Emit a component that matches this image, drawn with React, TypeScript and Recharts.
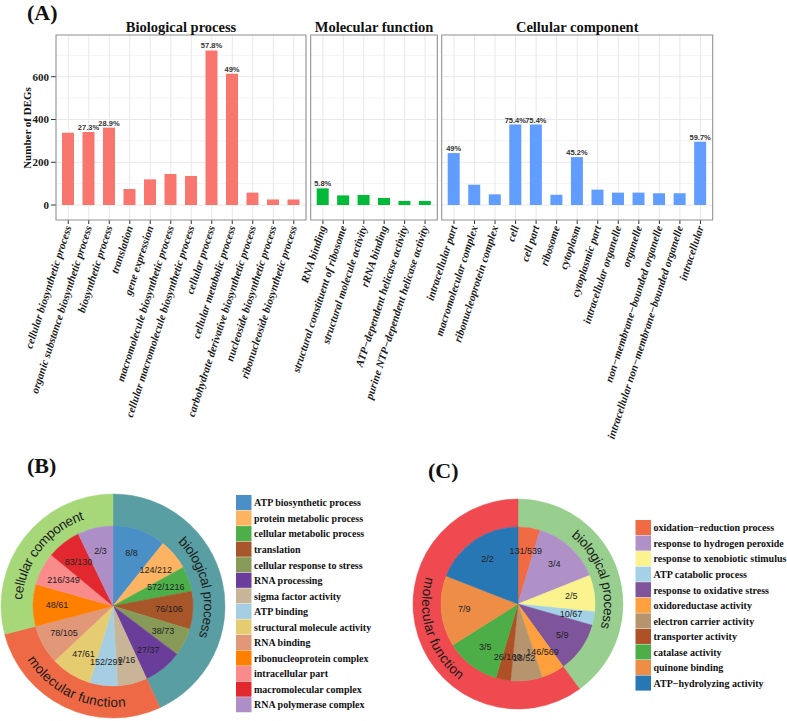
import React from 'react'
import { BarChart, Bar, XAxis, YAxis, CartesianGrid, LabelList, PieChart, Pie, Cell } from 'recharts'

const SERIF = '"Liberation Serif", "Times New Roman", serif'
const SANS = '"Liberation Sans", Arial, Helvetica, sans-serif'

// (A) number of DEGs per GO term, one facet per ontology
const bpTerms = [
  'cellular biosynthetic process',
  'organic substance biosynthetic process',
  'biosynthetic process',
  'translation',
  'gene expression',
  'macromolecule biosynthetic process',
  'cellular macromolecule biosynthetic process',
  'cellular process',
  'cellular metabolic process',
  'carbohydrate derivative biosynthetic process',
  'nucleoside biosynthetic process',
  'ribonucleoside biosynthetic process',
]
const bpCounts = [338, 341, 362, 75, 120, 145, 136, 723, 614, 58, 26, 26]
const bpPct = ['', '27.3%', '28.9%', '', '', '', '', '57.8%', '49%', '', '', '']

const mfTerms = [
  'RNA binding',
  'structural constituent of ribosome',
  'structural molecule activity',
  'rRNA binding',
  'ATP−dependent helicase activity',
  'purine NTP−dependent helicase activity',
]
const mfCounts = [78, 45, 47, 33, 19, 19]
const mfPct = ['5.8%', '', '', '', '', '']

const ccTerms = [
  'intracellular part',
  'macromolecular complex',
  'ribonucleoprotein complex',
  'cell',
  'cell part',
  'ribosome',
  'cytoplasm',
  'cytoplasmic part',
  'intracellular organelle',
  'organelle',
  'non−membrane−bounded organelle',
  'intracellular non−membrane−bounded organelle',
  'intracellular',
]
const ccCounts = [243, 95, 50, 376, 376, 48, 224, 72, 58, 58, 55, 55, 296]
const ccPct = ['49%', '', '', '75.4%', '75.4%', '', '45.2%', '', '', '', '', '', '59.7%']

const yTicks = [0, 200, 400, 600]
const yMinor = [100, 300, 500, 700]

// (B)
const bTerms = [
  'ATP biosynthetic process',
  'protein metabolic process',
  'cellular metabolic process',
  'translation',
  'cellular response to stress',
  'RNA processing',
  'sigma factor activity',
  'ATP binding',
  'structural molecule activity',
  'RNA binding',
  'ribonucleoprotein complex',
  'intracellular part',
  'macromolecular complex',
  'RNA polymerase complex',
]
const bHits = [8, 124, 572, 76, 38, 27, 9, 152, 47, 78, 48, 216, 83, 2]
const bTotals = [8, 212, 1216, 106, 73, 37, 16, 291, 61, 105, 61, 349, 130, 3]
const bGroupOf = [0, 0, 0, 0, 0, 0, 1, 1, 1, 1, 2, 2, 2, 2]
const bGroups = ['biological process', 'molecular function', 'cellular component']
const bColors = [
  '#4b8fc7', '#fdb462', '#4daf4a', '#a65628', '#889a58', '#6a3d9a', '#c8b597',
  '#a6cee3', '#e6cc71', '#e09878', '#ff7f00', '#f98b8b', '#e2282f', '#ad8ec6',
]
const bGroupColors = ['#599ea2', '#ee6a46', '#a6d87a']

// (C)
const cTerms = [
  'oxidation−reduction process',
  'response to hydrogen peroxide',
  'response to xenobiotic stimulus',
  'ATP catabolic process',
  'response to oxidative stress',
  'oxidoreductase activity',
  'electron carrier activity',
  'transporter activity',
  'catalase activity',
  'quinone binding',
  'ATP−hydrolyzing activity',
]
const cHits = [131, 3, 2, 10, 5, 146, 18, 26, 3, 7, 2]
const cTotals = [539, 4, 5, 67, 9, 569, 52, 160, 5, 9, 2]
const cGroupOf = [0, 0, 0, 0, 0, 1, 1, 1, 1, 1, 1]
const cGroups = ['biological process', 'molecular function']
const cColors = [
  '#f06a44', '#af91c8', '#fbf48e', '#a4d1e6', '#7e559a', '#fda03d',
  '#b6956e', '#ae5126', '#4dae47', '#ee8d45', '#2777b4',
]
const cGroupColors = ['#98ce8e', '#ee4a50']

const toBars = (terms: string[], counts: number[], pct: string[]) =>
  terms.map((term, i) => ({ term, count: counts[i], pct: pct[i] }))

const toInner = (terms: string[], hits: number[], totals: number[], colors: string[]) =>
  terms.map((name, i) => ({ name, value: hits[i] / totals[i], frac: `${hits[i]}/${totals[i]}`, color: colors[i] }))

const toOuter = (groups: string[], groupOf: number[], inner: { value: number }[], colors: string[]) =>
  groups.map((name, g) => ({
    name,
    value: inner.reduce((s, d, i) => (groupOf[i] === g ? s + d.value : s), 0),
    color: colors[g],
  }))

const bInner = toInner(bTerms, bHits, bTotals, bColors)
const bOuter = toOuter(bGroups, bGroupOf, bInner, bGroupColors)
const cInner = toInner(cTerms, cHits, cTotals, cColors)
const cOuter = toOuter(cGroups, cGroupOf, cInner, cGroupColors)

// eslint-disable-next-line @typescript-eslint/no-explicit-any
const RotTick = ({ x, y, payload }: any) => (
  <g transform={`translate(${x},${y})`}>
    <text
      x={0}
      y={0}
      dy="0.32em"
      textAnchor="end"
      transform="rotate(-72)"
      fontFamily={SERIF}
      fontStyle="italic"
      fontWeight="bold"
      fontSize={11}
      fill="#1a1a1a"
    >
      {payload.value}
    </text>
  </g>
)

// eslint-disable-next-line @typescript-eslint/no-explicit-any
const PctLabel = ({ x, y, width, value }: any) => {
  if (!value) return null
  return (
    <text x={x + width / 2} y={y - 2} textAnchor="middle" fontFamily={SANS} fontWeight="bold" fontSize={7.5} fill="#333">
      {value}
    </text>
  )
}

interface FacetProps {
  data: { term: string; count: number; pct: string }[]
  color: string
  left: number
  right: number
  showY?: boolean
}

function Facet({ data, color, left, right, showY }: FacetProps) {
  return (
    <div style={{ position: 'absolute', left: 0, top: 0 }}>
      <BarChart
        width={787}
        height={460}
        data={data}
        margin={{ top: 35, right: 787 - right, bottom: 0, left: showY ? 0 : left }}
      >
        <CartesianGrid horizontalValues={yMinor} vertical={false} stroke="#f3f3f3" />
        <CartesianGrid horizontalValues={yTicks} stroke="#e8e8e8" />
        <XAxis
          dataKey="term"
          interval={0}
          padding={{ left: 2, right: 2 }}
          height={240}
          axisLine={false}
          tickSize={4}
          tickLine={{ stroke: '#333' }}
          tick={<RotTick />}
        />
        <YAxis
          hide={!showY}
          width={left}
          domain={[-70, 795]}
          ticks={yTicks}
          axisLine={false}
          tickSize={5}
          tickLine={{ stroke: '#333' }}
          tick={{ fontFamily: SERIF, fontWeight: 'bold', fontSize: 11, fill: '#1a1a1a' }}
        />
        <Bar dataKey="count" fill={color} barSize={12} isAnimationActive={false}>
          <LabelList dataKey="pct" content={PctLabel} />
        </Bar>
      </BarChart>
    </div>
  )
}

const ringLabel = (prefix: string, size: number) =>
  // eslint-disable-next-line @typescript-eslint/no-explicit-any
  (p: any) => {
    const { cx, cy, innerRadius, outerRadius, startAngle, endAngle, midAngle, name, index } = p
    const r = (innerRadius + outerRadius) / 2
    const hi = Math.max(startAngle, endAngle)
    const lo = Math.min(startAngle, endAngle)
    const pt = (a: number) => `${cx + r * Math.cos((a * Math.PI) / 180)} ${cy - r * Math.sin((a * Math.PI) / 180)}`
    const fromTop = (((90 - midAngle) % 360) + 360) % 360
    const bottom = fromTop > 90 && fromTop < 270
    const large = hi - lo > 180 ? 1 : 0
    const d = bottom
      ? `M ${pt(lo)} A ${r} ${r} 0 ${large} 0 ${pt(hi)}`
      : `M ${pt(hi)} A ${r} ${r} 0 ${large} 1 ${pt(lo)}`
    const id = `${prefix}-${index}`
    return (
      <g key={id}>
        <path id={id} d={d} fill="none" stroke="none" />
        <text fontFamily={SANS} fontSize={size} fill="#1a1a1a" dominantBaseline="central">
          <textPath href={`#${id}`} startOffset="50%" textAnchor="middle" dominantBaseline="central">
            {name}
          </textPath>
        </text>
      </g>
    )
  }

// eslint-disable-next-line @typescript-eslint/no-explicit-any
const sliceLabel = (p: any) => {
  const { cx, cy, midAngle, outerRadius, index } = p
  const frac = p.payload?.frac ?? p.frac
  const r = outerRadius * 0.7
  const a = (midAngle * Math.PI) / 180
  return (
    <text
      key={`s-${index}`}
      x={cx + r * Math.cos(a)}
      y={cy - r * Math.sin(a)}
      textAnchor="middle"
      dominantBaseline="central"
      fontFamily={SANS}
      fontSize={9}
      fill="#222"
    >
      {frac}
    </text>
  )
}

interface SunProps {
  inner: { name: string; value: number; frac: string; color: string }[]
  outer: { name: string; value: number; color: string }[]
  id: string
  left: number
  top: number
  cx: number
  cy: number
  r0: number
  r1: number
}

function Sun({ inner, outer, id, left, top, cx, cy, r0, r1 }: SunProps) {
  return (
    <div style={{ position: 'absolute', left, top }}>
      <PieChart width={cx + r1 + 4} height={cy + r1 + 4} margin={{ top: 0, right: 0, bottom: 0, left: 0 }}>
        <Pie
          data={outer}
          dataKey="value"
          cx={cx}
          cy={cy}
          innerRadius={r0}
          outerRadius={r1}
          startAngle={90}
          endAngle={-270}
          isAnimationActive={false}
          label={ringLabel(id, 13.5)}
          labelLine={false}
        >
          {outer.map((d) => (
            <Cell key={d.name} fill={d.color} stroke={d.color} strokeWidth={0.5} />
          ))}
        </Pie>
        <Pie
          data={inner}
          dataKey="value"
          cx={cx}
          cy={cy}
          outerRadius={r0}
          startAngle={90}
          endAngle={-270}
          isAnimationActive={false}
          label={sliceLabel}
          labelLine={false}
        >
          {inner.map((d) => (
            <Cell key={d.name} fill={d.color} stroke={d.color} strokeWidth={0.5} />
          ))}
        </Pie>
      </PieChart>
    </div>
  )
}

function Legend({ items, x, y }: { items: { name: string; color: string }[]; x: number; y: number }) {
  const row = 15.55
  return (
    <g>
      {items.map((d, i) => (
        <g key={d.name}>
          <rect x={x} y={y + i * row} width={15.5} height={15.1} fill={d.color} />
          <text
            x={x + 18}
            y={y + i * row + 7.8}
            dominantBaseline="central"
            fontFamily={SERIF}
            fontWeight="bold"
            fontSize={10}
            fill="#111"
          >
            {d.name}
          </text>
        </g>
      ))}
    </g>
  )
}

const panels = [
  { title: 'Biological process', x0: 56, x1: 306 },
  { title: 'Molecular function', x0: 310.7, x1: 437.3 },
  { title: 'Cellular component', x0: 441.7, x1: 712.7 },
]

export default function App() {
  return (
    <div style={{ position: 'absolute', left: 0, top: 0, width: 787, height: 721, background: '#fff', overflow: 'hidden' }}>
      <Facet data={toBars(bpTerms, bpCounts, bpPct)} color="#F8766D" left={56} right={306} showY />
      <Facet data={toBars(mfTerms, mfCounts, mfPct)} color="#00BA38" left={310.7} right={437.3} />
      <Facet data={toBars(ccTerms, ccCounts, ccPct)} color="#619CFF" left={441.7} right={712.7} />

      <Sun inner={bInner} outer={bOuter} id="ringB" left={0} top={480} cx={113} cy={126} r0={80} r1={112} />
      <Sun inner={cInner} outer={cOuter} id="ringC" left={405} top={490} cx={113} cy={114} r0={77} r1={105} />

      <svg width={787} height={721} style={{ position: 'absolute', left: 0, top: 0, pointerEvents: 'none' }}>
        <text x={27} y={19.5} fontFamily={SERIF} fontWeight="bold" fontSize={22} fill="#111">(A)</text>
        <text x={27} y={473} fontFamily={SERIF} fontWeight="bold" fontSize={22} fill="#111">(B)</text>
        <text x={428} y={478} fontFamily={SERIF} fontWeight="bold" fontSize={22} fill="#111">(C)</text>

        {panels.map((p) => (
          <g key={p.title}>
            <rect x={p.x0} y={35} width={p.x1 - p.x0} height={185} fill="none" stroke="#8f8f8f" strokeWidth={1} />
            <text
              x={(p.x0 + p.x1) / 2}
              y={31.5}
              textAnchor="middle"
              fontFamily={SERIF}
              fontWeight="bold"
              fontSize={14.5}
              fill="#111"
            >
              {p.title}
            </text>
          </g>
        ))}
        <text
          transform="translate(30.5,128) rotate(-90)"
          textAnchor="middle"
          fontFamily={SERIF}
          fontWeight="bold"
          fontSize={11}
          fill="#111"
        >
          Number of DEGs
        </text>

        <Legend items={bInner} x={236} y={495} />
        <Legend items={cInner} x={635.5} y={520} />
      </svg>
    </div>
  )
}
